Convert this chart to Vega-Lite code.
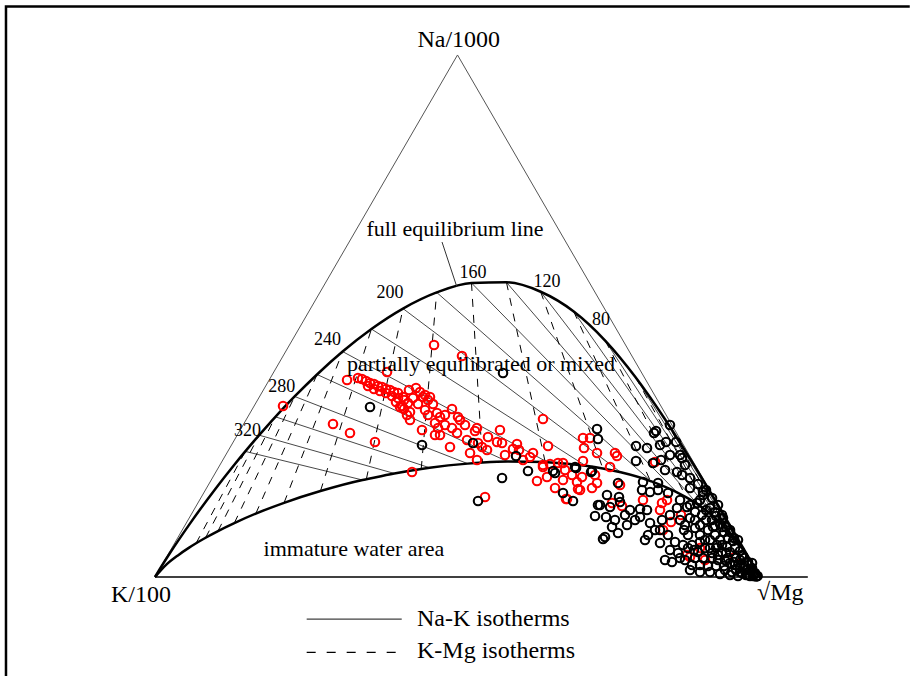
{
  "$schema": "https://vega.github.io/schema/vega-lite/v6.json",
  "width": 910,
  "height": 676,
  "autosize": {"type": "none"},
  "padding": 0,
  "background": "white",
  "config": {"view": {"stroke": null}, "text": {"font": "Liberation Serif", "color": "#000000"}},
  "datasets": {
    "frame": [{"o": 1, "u": -24.63, "v": -16.4}, {"o": 2, "u": -24.63, "v": 94.64}, {"o": 3, "u": 124.75, "v": 94.64}],
    "tri": [{"o": 1, "u": 0, "v": 0}, {"o": 2, "u": 50, "v": 86.6}, {"o": 3, "u": 100, "v": 0}],
    "base": [{"u": 0, "v": 0}, {"u": 107.9, "v": 0}],
    "upper": [{"u":0,"v":0},{"u":0.80,"v":1.33},{"u":2.45,"v":3.94},{"u":5.63,"v":8.65},{"u":9.97,"v":14.61},{"u":12.98,"v":18.46},{"u":14.92,"v":20.84},{"u":17.21,"v":23.53},{"u":19.90,"v":26.58},{"u":23.08,"v":29.95},{"u":26.78,"v":33.60},{"u":31.01,"v":37.40},{"u":35.77,"v":41.14},{"u":40.99,"v":44.53},{"u":46.56,"v":47.21},{"u":52.31,"v":48.78},{"u":58.09,"v":48.89},{"u":63.75,"v":47.32},{"u":69.21,"v":44.04},{"u":74.44,"v":39.18},{"u":79.43,"v":33.14},{"u":84.13,"v":26.42},{"u":88.43,"v":19.63},{"u":92.17,"v":13.45},{"u":95.16,"v":8.36},{"u":100,"v":0}],
    "lower": [{"u":0,"v":0},{"u":1.87,"v":2.05},{"u":3.90,"v":3.67},{"u":5.58,"v":4.83},{"u":6.79,"v":5.60},{"u":8.36,"v":6.52},{"u":10.41,"v":7.63},{"u":13.11,"v":8.95},{"u":16.66,"v":10.52},{"u":21.33,"v":12.31},{"u":27.35,"v":14.26},{"u":34.31,"v":16.09},{"u":34.93,"v":16.22},{"u":39.55,"v":17.18},{"u":44.00,"v":17.92},{"u":45.39,"v":18.12},{"u":51.68,"v":18.81},{"u":54.13,"v":18.99},{"u":58.26,"v":19.16},{"u":64.49,"v":19.07},{"u":64.87,"v":19.05},{"u":71.19,"v":18.45},{"u":74.02,"v":17.99},{"u":76.98,"v":17.37},{"u":81.89,"v":15.92},{"u":82.05,"v":15.86},{"u":86.27,"v":14.05},{"u":87.83,"v":13.20},{"u":89.68,"v":12.05},{"u":92.01,"v":10.29},{"u":92.34,"v":10.00},{"u":94.39,"v":8.02},{"u":94.83,"v":7.54},{"u":95.95,"v":6.20},{"u":96.73,"v":5.19},{"u":97.14,"v":4.61},{"u":98.03,"v":3.27},{"u":98.70,"v":2.20},{"u":100,"v":0}],
    "nak": [
      {"T":20,"u":88.43,"v":19.63},{"T":20,"u":98.70,"v":2.20},
      {"T":40,"u":84.13,"v":26.42},{"T":40,"u":98.03,"v":3.27},
      {"T":60,"u":79.43,"v":33.14},{"T":60,"u":97.14,"v":4.61},
      {"T":80,"u":74.44,"v":39.18},{"T":80,"u":95.95,"v":6.20},
      {"T":100,"u":69.21,"v":44.04},{"T":100,"u":94.39,"v":8.02},
      {"T":120,"u":63.75,"v":47.32},{"T":120,"u":92.34,"v":10.00},
      {"T":140,"u":58.09,"v":48.89},{"T":140,"u":89.68,"v":12.05},
      {"T":160,"u":52.31,"v":48.78},{"T":160,"u":86.27,"v":14.05},
      {"T":180,"u":46.56,"v":47.21},{"T":180,"u":82.05,"v":15.86},
      {"T":200,"u":40.99,"v":44.53},{"T":200,"u":76.98,"v":17.37},
      {"T":220,"u":35.77,"v":41.14},{"T":220,"u":71.19,"v":18.45},
      {"T":240,"u":31.01,"v":37.40},{"T":240,"u":64.87,"v":19.05},
      {"T":260,"u":26.78,"v":33.60},{"T":260,"u":58.26,"v":19.16},
      {"T":280,"u":23.08,"v":29.95},{"T":280,"u":51.68,"v":18.81},
      {"T":300,"u":19.90,"v":26.58},{"T":300,"u":45.39,"v":18.12},
      {"T":320,"u":17.21,"v":23.53},{"T":320,"u":39.55,"v":17.18},
      {"T":340,"u":14.92,"v":20.84},{"T":340,"u":34.31,"v":16.09}
    ],
    "kmg": [
      {"T":20,"u":88.43,"v":19.63},{"T":20,"u":96.73,"v":5.19},
      {"T":40,"u":84.13,"v":26.42},{"T":40,"u":94.83,"v":7.54},
      {"T":60,"u":79.43,"v":33.14},{"T":60,"u":92.01,"v":10.29},
      {"T":80,"u":74.44,"v":39.18},{"T":80,"u":87.83,"v":13.20},
      {"T":100,"u":69.21,"v":44.04},{"T":100,"u":81.89,"v":15.92},
      {"T":120,"u":63.75,"v":47.32},{"T":120,"u":74.02,"v":17.99},
      {"T":140,"u":58.09,"v":48.89},{"T":140,"u":64.49,"v":19.07},
      {"T":160,"u":52.31,"v":48.78},{"T":160,"u":54.13,"v":18.99},
      {"T":180,"u":46.56,"v":47.21},{"T":180,"u":44.00,"v":17.92},
      {"T":200,"u":40.99,"v":44.53},{"T":200,"u":34.93,"v":16.22},
      {"T":220,"u":35.77,"v":41.14},{"T":220,"u":27.35,"v":14.26},
      {"T":240,"u":31.01,"v":37.40},{"T":240,"u":21.33,"v":12.31},
      {"T":260,"u":26.78,"v":33.60},{"T":260,"u":16.66,"v":10.52},
      {"T":280,"u":23.08,"v":29.95},{"T":280,"u":13.11,"v":8.95},
      {"T":300,"u":19.90,"v":26.58},{"T":300,"u":10.41,"v":7.63},
      {"T":320,"u":17.21,"v":23.53},{"T":320,"u":8.36,"v":6.52},
      {"T":340,"u":14.92,"v":20.84},{"T":340,"u":6.79,"v":5.60}
    ],
    "leader": [{"u": 47.44, "v": 55.57}, {"u": 49.87, "v": 48.2}],
    "legsolid": [{"u": 25.07, "v": -6.97}, {"u": 40.78, "v": -6.97}],
    "legdash": [{"u": 25.07, "v": -12.49}, {"u": 39.96, "v": -12.49}],
    "red": [{"u":21.16,"v":28.37},{"u":31.74,"v":32.68},{"u":33.55,"v":33.01},{"u":34.21,"v":32.85},{"u":34.88,"v":32.51},{"u":35.54,"v":32.18},{"u":36.20,"v":32.02},{"u":36.86,"v":31.69},{"u":37.52,"v":31.52},{"u":38.18,"v":31.19},{"u":38.84,"v":31.02},{"u":39.50,"v":30.69},{"u":40.17,"v":30.52},{"u":35.21,"v":31.69},{"u":36.20,"v":31.19},{"u":37.19,"v":30.86},{"u":38.18,"v":30.52},{"u":39.17,"v":30.03},{"u":40.17,"v":29.69},{"u":41.16,"v":29.36},{"u":41.82,"v":28.87},{"u":40.83,"v":28.37},{"u":39.83,"v":29.03},{"u":41.16,"v":27.87},{"u":41.98,"v":31.02},{"u":42.64,"v":29.69},{"u":40.99,"v":29.86},{"u":40.50,"v":28.20},{"u":42.15,"v":27.37},{"u":42.15,"v":26.05},{"u":41.65,"v":26.87},{"u":44.30,"v":29.86},{"u":45.45,"v":29.86},{"u":45.95,"v":28.70},{"u":44.63,"v":27.70},{"u":45.12,"v":26.87},{"u":46.61,"v":27.21},{"u":47.11,"v":26.54},{"u":46.28,"v":25.55},{"u":46.78,"v":24.72},{"u":46.28,"v":23.56},{"u":47.93,"v":26.87},{"u":49.09,"v":27.87},{"u":50.08,"v":26.54},{"u":50.41,"v":26.05},{"u":49.92,"v":23.89},{"u":51.57,"v":22.73},{"u":52.89,"v":24.22},{"u":53.22,"v":24.72},{"u":53.39,"v":22.23},{"u":54.05,"v":21.57},{"u":54.88,"v":21.07},{"u":56.53,"v":22.40},{"u":57.36,"v":22.23},{"u":57.02,"v":24.39},{"u":59.83,"v":22.06},{"u":60.17,"v":21.07},{"u":59.17,"v":21.23},{"u":60.83,"v":19.41},{"u":61.98,"v":19.91},{"u":62.48,"v":20.57},{"u":64.13,"v":26.21},{"u":64.96,"v":21.73},{"u":64.13,"v":18.58},{"u":48.76,"v":21.57},{"u":52.07,"v":20.57},{"u":53.22,"v":19.41},{"u":42.48,"v":17.42},{"u":36.36,"v":22.40},{"u":44.13,"v":24.39},{"u":47.11,"v":23.56},{"u":29.42,"v":25.38},{"u":32.23,"v":23.89},{"u":46.12,"v":38.49},{"u":50.74,"v":36.66},{"u":38.35,"v":34.01},{"u":70.74,"v":23.06},{"u":71.90,"v":23.06},{"u":70.91,"v":21.40},{"u":73.06,"v":20.57},{"u":76.03,"v":20.57},{"u":76.36,"v":20.07},{"u":70.74,"v":19.24},{"u":67.44,"v":18.91},{"u":75.21,"v":18.25},{"u":82.64,"v":19.08},{"u":67.77,"v":17.75},{"u":68.93,"v":16.92},{"u":70.58,"v":16.59},{"u":67.44,"v":16.09},{"u":69.75,"v":15.76},{"u":73.06,"v":15.59},{"u":72.23,"v":14.76},{"u":70.25,"v":14.43},{"u":76.86,"v":15.26},{"u":68.10,"v":12.94},{"u":80.66,"v":12.77},{"u":75.54,"v":12.28},{"u":77.19,"v":11.78},{"u":83.80,"v":12.28},{"u":84.63,"v":12.77},{"u":83.47,"v":11.11},{"u":86.94,"v":10.29},{"u":83.97,"v":7.80},{"u":87.93,"v":3.65},{"u":88.43,"v":3.32},{"u":95.87,"v":3.32},{"u":54.55,"v":13.27},{"u":63.14,"v":15.93},{"u":64.79,"v":16.59},{"u":66.12,"v":14.76},{"u":67.93,"v":12.94},{"u":69.92,"v":14.60},{"u":64.13,"v":18.25},{"u":65.29,"v":18.75},{"u":66.61,"v":18.91},{"u":43.80,"v":30.69},{"u":44.63,"v":30.19},{"u":43.14,"v":31.35},{"u":45.12,"v":29.36},{"u":43.47,"v":28.70},{"u":47.93,"v":25.22},{"u":51.24,"v":25.22},{"u":49.09,"v":24.72},{"u":55.04,"v":23.23},{"u":57.85,"v":20.24},{"u":72.73,"v":16.92},{"u":85.29,"v":9.12},{"u":90.08,"v":4.81},{"u":90.91,"v":2.82}],
    "black": [{"u":35.54,"v":28.20},{"u":57.52,"v":33.84},{"u":44.13,"v":21.90},{"u":52.56,"v":22.23},{"u":59.67,"v":20.07},{"u":61.65,"v":17.58},{"u":57.36,"v":16.42},{"u":53.39,"v":12.61},{"u":66.12,"v":17.25},{"u":67.44,"v":13.93},{"u":69.09,"v":12.61},{"u":69.59,"v":18.08},{"u":72.07,"v":17.42},{"u":73.22,"v":11.94},{"u":72.73,"v":10.12},{"u":65.79,"v":17.58},{"u":69.42,"v":18.25},{"u":73.06,"v":24.55},{"u":73.22,"v":22.89},{"u":82.48,"v":23.89},{"u":82.81,"v":24.22},{"u":84.46,"v":22.40},{"u":79.50,"v":21.73},{"u":81.32,"v":21.40},{"u":79.50,"v":19.24},{"u":83.64,"v":19.41},{"u":86.28,"v":17.42},{"u":87.11,"v":16.92},{"u":80.66,"v":15.76},{"u":83.14,"v":15.59},{"u":76.53,"v":15.59},{"u":74.71,"v":13.60},{"u":90.58,"v":14.10},{"u":72.23,"v":17.58},{"u":76.69,"v":13.27},{"u":76.86,"v":12.44},{"u":80.50,"v":14.43},{"u":81.82,"v":14.10},{"u":83.14,"v":14.43},{"u":84.79,"v":13.93},{"u":73.55,"v":11.94},{"u":75.21,"v":11.61},{"u":78.51,"v":11.11},{"u":80.17,"v":11.28},{"u":81.32,"v":11.11},{"u":86.28,"v":11.45},{"u":87.93,"v":11.61},{"u":89.59,"v":12.28},{"u":90.58,"v":13.60},{"u":74.55,"v":9.95},{"u":78.02,"v":8.63},{"u":80.17,"v":9.95},{"u":75.54,"v":8.29},{"u":76.53,"v":7.30},{"u":74.38,"v":6.64},{"u":74.05,"v":6.30},{"u":81.82,"v":8.96},{"u":83.47,"v":5.64},{"u":84.30,"v":2.82},{"u":85.95,"v":5.81},{"u":90.41,"v":10.29},{"u":92.23,"v":8.29},{"u":94.55,"v":4.98},{"u":86.78,"v":9.46},{"u":87.60,"v":8.63},{"u":88.43,"v":9.79},{"u":89.26,"v":8.13},{"u":90.08,"v":6.97},{"u":88.10,"v":6.97},{"u":87.27,"v":5.31},{"u":88.76,"v":5.31},{"u":89.75,"v":4.15},{"u":90.91,"v":6.14},{"u":91.74,"v":4.81},{"u":92.56,"v":6.97},{"u":93.06,"v":3.65},{"u":93.72,"v":5.31},{"u":94.21,"v":2.82},{"u":95.04,"v":4.15},{"u":95.87,"v":1.99},{"u":96.69,"v":2.82},{"u":97.52,"v":1.49},{"u":98.35,"v":1.16},{"u":99.17,"v":0.66},{"u":98.02,"v":0.33},{"u":96.69,"v":0.83},{"u":95.37,"v":0.83},{"u":94.21,"v":1.16},{"u":92.73,"v":1.82},{"u":91.40,"v":1.82},{"u":90.08,"v":1.99},{"u":88.76,"v":1.99},{"u":92.07,"v":3.15},{"u":90.58,"v":3.15},{"u":89.26,"v":3.15},{"u":93.39,"v":6.14},{"u":94.71,"v":6.47},{"u":95.87,"v":4.81},{"u":97.02,"v":3.65},{"u":96.36,"v":6.14},{"u":95.04,"v":7.80},{"u":93.72,"v":8.29},{"u":92.07,"v":9.46},{"u":91.07,"v":11.11},{"u":92.56,"v":10.78},{"u":93.88,"v":9.79},{"u":95.04,"v":7.47},{"u":97.19,"v":3.48},{"u":98.68,"v":1.49},{"u":99.17,"v":0.50},{"u":98.68,"v":2.32},{"u":97.36,"v":1.99},{"u":99.50,"v":0.17},{"u":99.60,"v":0.17},{"u":98.84,"v":0.17},{"u":87.60,"v":2.82},{"u":86.45,"v":3.98},{"u":85.12,"v":4.48},{"u":88.43,"v":11.94},{"u":89.26,"v":10.78},{"u":86.78,"v":12.77},{"u":85.12,"v":10.29},{"u":83.80,"v":9.46},{"u":82.64,"v":7.80},{"u":81.49,"v":6.97},{"u":84.79,"v":6.97},{"u":87.44,"v":7.80},{"u":91.40,"v":7.80},{"u":90.08,"v":8.63},{"u":92.89,"v":5.31},{"u":94.38,"v":3.98},{"u":96.03,"v":3.15},{"u":97.36,"v":3.15},{"u":88.43,"v":16.42},{"u":89.75,"v":15.43},{"u":91.07,"v":14.43},{"u":92.07,"v":13.11},{"u":93.06,"v":11.94},{"u":93.72,"v":10.29},{"u":94.38,"v":8.29},{"u":95.54,"v":5.97},{"u":96.69,"v":4.31},{"u":98.02,"v":2.49},{"u":82.31,"v":18.91},{"u":84.30,"v":17.75},{"u":85.12,"v":20.24},{"u":87.60,"v":18.58},{"u":87.11,"v":19.74},{"u":83.47,"v":21.90},{"u":85.12,"v":25.22},{"u":86.12,"v":22.40},{"u":86.78,"v":20.24},{"u":90.91,"v":4.81},{"u":92.07,"v":3.98},{"u":93.06,"v":2.82},{"u":94.05,"v":1.82},{"u":95.04,"v":2.32},{"u":96.03,"v":1.16},{"u":97.02,"v":0.66},{"u":97.69,"v":0.33},{"u":98.35,"v":0.17},{"u":99.34,"v":0.10},{"u":91.74,"v":6.14},{"u":92.73,"v":4.81},{"u":93.72,"v":4.15},{"u":94.71,"v":3.15},{"u":95.70,"v":2.49},{"u":96.69,"v":1.82},{"u":97.69,"v":1.16},{"u":98.68,"v":0.66},{"u":90.08,"v":5.81},{"u":89.09,"v":4.48},{"u":88.10,"v":4.81},{"u":86.78,"v":3.15},{"u":85.45,"v":2.49},{"u":88.43,"v":1.16},{"u":90.08,"v":0.83},{"u":91.74,"v":0.83},{"u":93.39,"v":0.50},{"u":95.04,"v":0.33},{"u":96.36,"v":0.17},{"u":92.56,"v":8.46},{"u":94.05,"v":7.47},{"u":95.70,"v":6.47},{"u":91.07,"v":9.46},{"u":89.26,"v":9.46},{"u":83.47,"v":7.80},{"u":80.99,"v":6.14},{"u":79.34,"v":9.46},{"u":77.69,"v":10.29},{"u":76.03,"v":9.46},{"u":88.43,"v":14.76},{"u":90.08,"v":12.77},{"u":91.74,"v":11.45},{"u":92.73,"v":10.12},{"u":93.39,"v":8.79}],
    "temps": [{"u":15.29,"v":24.22,"t":"320"},{"u":20.94,"v":31.47,"t":"280"},{"u":28.51,"v":39.32,"t":"240"},{"u":38.84,"v":47.06,"t":"200"},{"u":52.56,"v":50.38,"t":"160"},{"u":64.79,"v":48.99,"t":"120"},{"u":73.72,"v":42.63,"t":"80"}],
    "regions": [{"u":49.59,"v":57.73,"t":"full equilibrium line"},{"u":53.88,"v":35.30,"t":"partially equilibrated or mixed"},{"u":32.89,"v":4.64,"t":"immature water area"}],
    "vcenter": [{"u":50.21,"v":87.97,"t":"Na/1000"},{"u":-2.33,"v":-4.10,"t":"K/100"}],
    "vleft": [{"u":99.50,"v":-3.82,"t":"√Mg"},{"u":43.31,"v":-8.13,"t":"Na-K isotherms"},{"u":43.31,"v":-13.49,"t":"K-Mg isotherms"}]
  },
  "encoding": {
    "x": {"field": "u", "type": "quantitative", "scale": {"domain": [-25.62, 124.79], "nice": false, "zero": false}, "axis": null},
    "y": {"field": "v", "type": "quantitative", "scale": {"domain": [-16.42, 95.72], "nice": false, "zero": false}, "axis": null}
  },
  "layer": [
    {"data": {"name": "frame"}, "mark": {"type": "line", "stroke": "#000000", "strokeWidth": 2.5}, "encoding": {"order": {"field": "o", "type": "quantitative"}}},
    {"data": {"name": "nak"}, "mark": {"type": "line", "stroke": "#484848", "strokeWidth": 1}, "encoding": {"detail": {"field": "T", "type": "nominal"}}},
    {"data": {"name": "kmg"}, "mark": {"type": "line", "stroke": "#000000", "strokeWidth": 1, "strokeDash": [8, 8]}, "encoding": {"detail": {"field": "T", "type": "nominal"}}},
    {"data": {"name": "tri"}, "mark": {"type": "line", "stroke": "#555555", "strokeWidth": 1}, "encoding": {"order": {"field": "o", "type": "quantitative"}}},
    {"data": {"name": "base"}, "mark": {"type": "line", "stroke": "#000000", "strokeWidth": 1.5}, "encoding": {}},
    {"data": {"name": "upper"}, "mark": {"type": "line", "stroke": "#000000", "strokeWidth": 2.5, "interpolate": "monotone"}, "encoding": {}},
    {"data": {"name": "lower"}, "mark": {"type": "line", "stroke": "#000000", "strokeWidth": 2.5, "interpolate": "monotone"}, "encoding": {}},
    {"data": {"name": "leader"}, "mark": {"type": "line", "stroke": "#333333", "strokeWidth": 1}, "encoding": {}},
    {"data": {"name": "red"}, "mark": {"type": "point", "shape": "circle", "filled": false, "size": 72, "strokeWidth": 2.1, "stroke": "#ff0000", "opacity": 1}},
    {"data": {"name": "black"}, "mark": {"type": "point", "shape": "circle", "filled": false, "size": 72, "strokeWidth": 2.1, "stroke": "#000000", "opacity": 1}},
    {"data": {"name": "legsolid"}, "mark": {"type": "line", "stroke": "#404040", "strokeWidth": 1.2}, "encoding": {}},
    {"data": {"name": "legdash"}, "mark": {"type": "line", "stroke": "#000000", "strokeWidth": 1.2, "strokeDash": [9, 11]}, "encoding": {}},
    {"data": {"name": "temps"}, "mark": {"type": "text", "font": "Liberation Serif", "fontSize": 18, "align": "center", "baseline": "middle"}, "encoding": {"text": {"field": "t"}}},
    {"data": {"name": "regions"}, "mark": {"type": "text", "font": "Liberation Serif", "fontSize": 22, "align": "center", "baseline": "middle"}, "encoding": {"text": {"field": "t"}}},
    {"data": {"name": "vcenter"}, "mark": {"type": "text", "font": "Liberation Serif", "fontSize": 24, "align": "center", "baseline": "alphabetic"}, "encoding": {"text": {"field": "t"}}},
    {"data": {"name": "vleft"}, "mark": {"type": "text", "font": "Liberation Serif", "fontSize": 24, "align": "left", "baseline": "alphabetic"}, "encoding": {"text": {"field": "t"}}}
  ]
}
